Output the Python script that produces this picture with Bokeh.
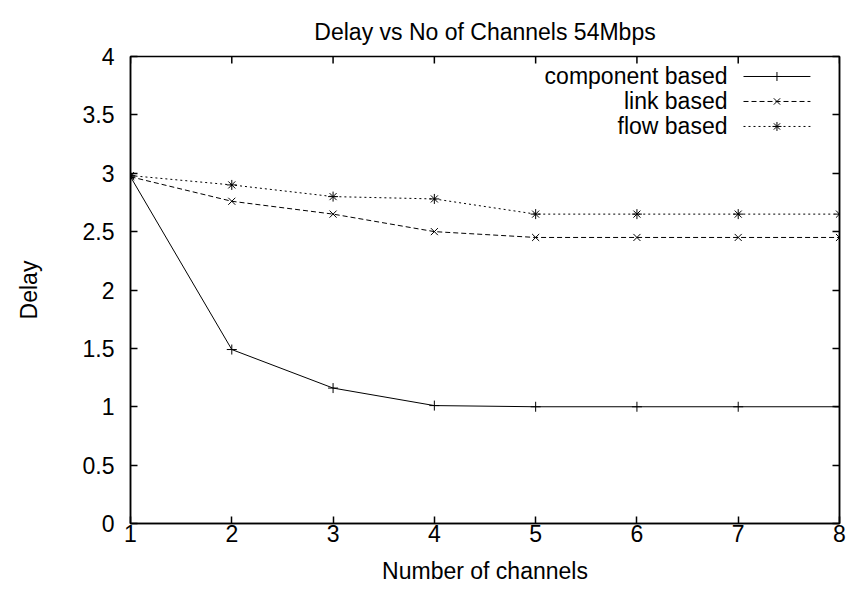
from bokeh.plotting import figure
from bokeh.models import LinearAxis, FixedTicker, Range1d, Label, CustomJSTickFormatter
from bokeh.embed import file_html
from bokeh.resources import INLINE

channels = [1, 2, 3, 4, 5, 6, 7, 8]
component_based = [2.97, 1.49, 1.16, 1.01, 1.0, 1.0, 1.0, 1.0]
link_based = [2.97, 2.76, 2.65, 2.50, 2.45, 2.45, 2.45, 2.45]
flow_based = [2.98, 2.90, 2.80, 2.78, 2.65, 2.65, 2.65, 2.65]

x_ticks = [1, 2, 3, 4, 5, 6, 7, 8]
y_ticks = [0, 0.5, 1, 1.5, 2, 2.5, 3, 3.5, 4]
y_tick_labels = ["0", "0.5", "1", "1.5", "2", "2.5", "3", "3.5", "4"]

series_names = ["component based", "link based", "flow based"]
series_markers = ["cross", "x", "asterisk"]
series_dash = ["solid", "5 3", "2 3"]

FONT = "Liberation Sans"
FS = "23px"
FRAME_H = 467

p = figure(width=852, height=589, output_backend="svg", toolbar_location=None,
           x_range=Range1d(1, 8), y_range=Range1d(0, 4),
           title="Delay vs No of Channels 54Mbps",
           min_border_left=130, min_border_right=13, min_border_top=56, min_border_bottom=66)

p.title.align = "center"
p.title.text_font = FONT
p.title.text_font_size = FS
p.title.text_font_style = "normal"
p.title.text_color = "black"
p.title.standoff = 24

p.xgrid.visible = False
p.ygrid.visible = False
p.outline_line_color = "black"
p.outline_line_width = 1.5
p.background_fill_color = "white"
p.border_fill_color = "white"

def style_axis(ax, ticks, show_labels):
    ax.ticker = FixedTicker(ticks=ticks)
    ax.minor_tick_line_color = None
    ax.major_tick_in = 7
    ax.major_tick_out = 0
    ax.major_tick_line_color = "black"
    ax.major_tick_line_width = 1.5
    ax.axis_line_color = "black"
    ax.axis_line_width = 1.5
    ax.major_label_text_font = FONT
    ax.major_label_text_color = "black"
    if show_labels:
        ax.major_label_text_font_size = FS
    else:
        ax.formatter = CustomJSTickFormatter(code="return '';")
        ax.major_label_text_font_size = "1px"
        ax.major_label_standoff = 0

xa = p.xaxis[0]
style_axis(xa, x_ticks, True)
xa.major_label_standoff = 1
xa.axis_label = "Number of channels"
xa.axis_label_text_font = FONT
xa.axis_label_text_font_size = FS
xa.axis_label_text_font_style = "normal"
xa.axis_label_text_color = "black"
xa.axis_label_standoff = 13

ya = p.yaxis[0]
style_axis(ya, y_ticks, True)
ya.major_label_overrides = {t: l for t, l in zip(y_ticks, y_tick_labels)}
ya.major_label_standoff = 16
ya.axis_label = "Delay"
ya.axis_label_text_font = FONT
ya.axis_label_text_font_size = FS
ya.axis_label_text_font_style = "normal"
ya.axis_label_text_color = "black"
ya.axis_label_standoff = 38

right_axis = LinearAxis()
style_axis(right_axis, y_ticks, False)
p.add_layout(right_axis, "right")

x0, x1 = p.x_range.start, p.x_range.end
y0, y1 = p.y_range.start, p.y_range.end
xw, yh = x1 - x0, y1 - y0

# mirrored inward ticks along the top edge (gnuplot style)
tick_len = 7 * yh / FRAME_H
p.segment(x0=x_ticks, y0=[y1] * len(x_ticks), x1=x_ticks, y1=[y1 - tick_len] * len(x_ticks),
          line_color="black", line_width=1.5)

all_series = [component_based, link_based, flow_based]
for vals, mk, dash in zip(all_series, series_markers, series_dash):
    p.line(channels, vals, line_color="black", line_width=1, line_dash=dash)
    p.scatter(channels, vals, marker=mk, size=10, line_color="black", line_width=1)

# legend (top right, gnuplot style: label right-aligned, sample to the right)
for i, (name, mk, dash) in enumerate(zip(series_names, series_markers, series_dash)):
    ly = y1 - yh * (0.0428 + 0.0535 * i)
    lx_a = x0 + xw * 0.8646
    lx_b = x0 + xw * 0.959
    p.line([lx_a, lx_b], [ly, ly], line_color="black", line_width=1, line_dash=dash)
    p.scatter([(lx_a + lx_b) / 2], [ly], marker=mk, size=9, line_color="black", line_width=1)
    p.add_layout(Label(x=x0 + xw * 0.842, y=ly, text=name, text_align="right",
                       text_baseline="middle", text_font=FONT, text_font_size=FS,
                       text_color="black"))

open("out.html", "w").write(file_html(p, INLINE))
